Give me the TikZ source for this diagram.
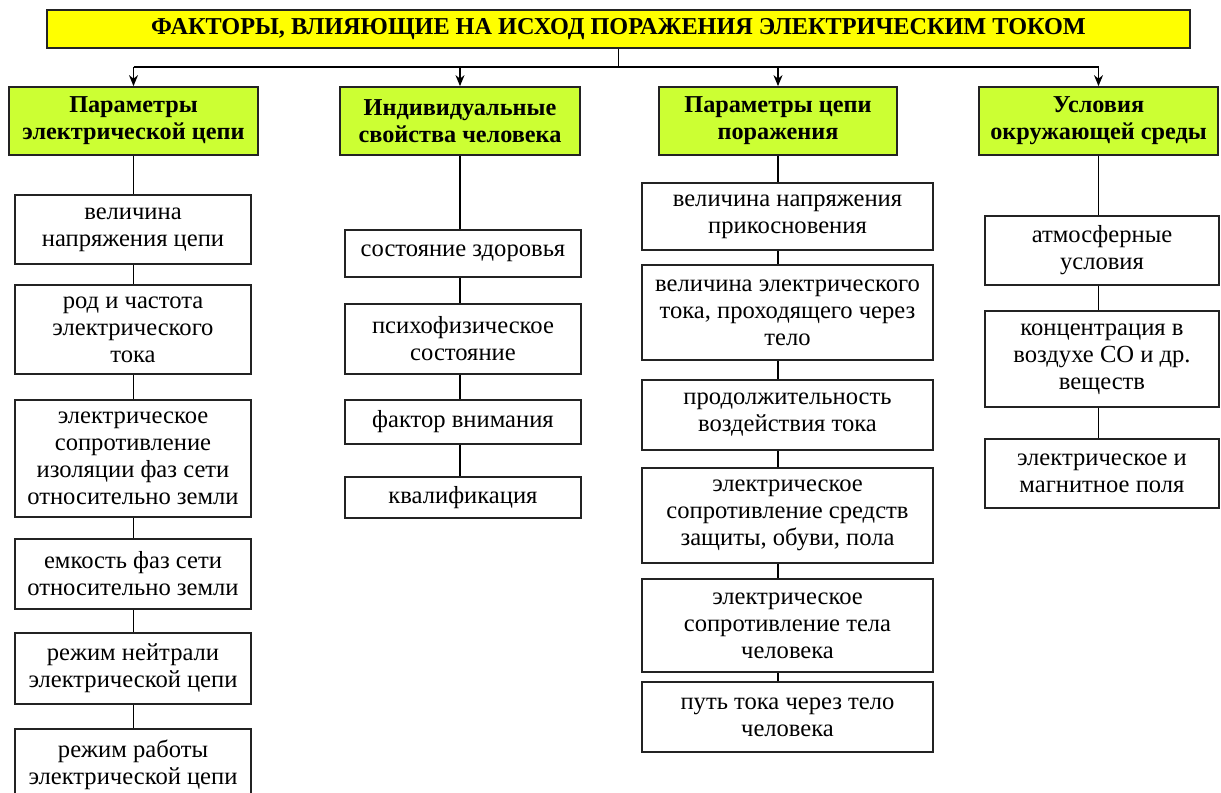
\documentclass[tikz,border=0pt]{standalone}
\usepackage{fontspec}
\setmainfont{Liberation Serif}
\usetikzlibrary{arrows.meta}
\definecolor{TitleYellow}{RGB}{255,255,0}
\definecolor{HeadGreen}{RGB}{204,255,51}
\definecolor{EdgeDark}{RGB}{35,35,35}
\tikzset{
  feed/.style={-{Stealth[length=2.2mm,width=1.8mm]},line width=0.8pt,draw=black},
  link/.style={line width=0.8pt,draw=black},
  titlebox/.style={draw=EdgeDark,fill=TitleYellow,line width=1pt,
    minimum width=22.86cm,minimum height=0.76cm,inner sep=0pt,
    font=\fontsize{13.8}{16}\selectfont\bfseries},
  headbox/.style={draw=EdgeDark,fill=HeadGreen,line width=1pt,inner sep=0pt,
    minimum height=1.36cm,align=center,font=\fontsize{13.8}{15.5}\selectfont\bfseries},
  itembox/.style={draw=EdgeDark,fill=white,line width=1pt,inner sep=0pt,
    align=center,font=\fontsize{14}{15.3}\selectfont}
}

\begin{document}
\begin{tikzpicture}[x=0.02cm,y=-0.02cm]
  \useasboundingbox (0,0) rectangle (1221,793);

  \node[titlebox] (title) at (618.5,29) {ФАКТОРЫ, ВЛИЯЮЩИЕ НА ИСХОД ПОРАЖЕНИЯ ЭЛЕКТРИЧЕСКИМ ТОКОМ};

  % column heads
  \node[headbox,minimum width=4.98cm] (par) at (133.5,121) {Параметры\\электрической цепи};
  \node[headbox,minimum width=4.8cm] (ind) at (460,121) {Индивидуальные\\свойства человека};
  \node[headbox,minimum width=4.76cm] (cir) at (778,121) {Параметры цепи\\поражения};
  \node[headbox,minimum width=4.78cm] (env) at (1098.5,121) {Условия\\окружающей среды};

  % electric circuit
  \node[itembox,minimum width=4.72cm,minimum height=1.38cm] (b1) at (133,229.5) {величина\\напряжения цепи};
  \node[itembox,minimum width=4.72cm,minimum height=1.78cm] (b2) at (133,329.5) {род и частота\\электрического\\тока};
  \node[itembox,minimum width=4.72cm,minimum height=2.34cm] (b3) at (133,458.5) {электрическое\\сопротивление\\изоляции фаз сети\\относительно земли};
  \node[itembox,minimum width=4.72cm,minimum height=1.4cm] (b4) at (133,574) {емкость фаз сети\\относительно земли};
  \node[itembox,minimum width=4.72cm,minimum height=1.42cm] (b5) at (133,668.5) {режим нейтрали\\электрической цепи};
  \node[itembox,minimum width=4.72cm,minimum height=1.44cm] (b6) at (133,765) {режим работы\\электрической цепи};

  % person
  \node[itembox,minimum width=4.72cm,minimum height=0.94cm] (c1) at (463,253.5) {состояние здоровья};
  \node[itembox,minimum width=4.72cm,minimum height=1.4cm] (c2) at (463,339) {психофизическое\\состояние};
  \node[itembox,minimum width=4.72cm,minimum height=0.88cm] (c3) at (463,422) {фактор внимания};
  \node[itembox,minimum width=4.72cm,minimum height=0.82cm] (c4) at (463,497.5) {квалификация};

  % injury circuit
  \node[itembox,minimum width=5.82cm,minimum height=1.34cm] (d1) at (787.5,216.5) {величина напряжения\\прикосновения};
  \node[itembox,minimum width=5.82cm,minimum height=1.9cm] (d2) at (787.5,312.5) {величина электрического\\тока, проходящего через\\тело};
  \node[itembox,minimum width=5.82cm,minimum height=1.4cm] (d3) at (787.5,415) {продолжительность\\воздействия тока};
  \node[itembox,minimum width=5.82cm,minimum height=1.9cm] (d4) at (787.5,515.5) {электрическое\\сопротивление средств\\защиты, обуви, пола};
  \node[itembox,minimum width=5.82cm,minimum height=1.86cm] (d5) at (787.5,625.5) {электрическое\\сопротивление тела\\человека};
  \node[itembox,minimum width=5.82cm,minimum height=1.4cm] (d6) at (787.5,717) {путь тока через тело\\человека};

  % environment
  \node[itembox,minimum width=4.68cm,minimum height=1.38cm] (e1) at (1102,250.5) {атмосферные\\условия};
  \node[itembox,minimum width=4.68cm,minimum height=1.92cm] (e2) at (1102,359) {концентрация в\\воздухе СО и др.\\веществ};
  \node[itembox,minimum width=4.68cm,minimum height=1.38cm] (e3) at (1102,473.5) {электрическое и\\магнитное поля};

  % bus
  \coordinate (bus) at (618.5,67);
  \draw[link] (title.south) -- (bus);
  \draw[link] (bus -| par) -- (bus -| env);
  \foreach \h in {par,ind,cir,env}
    \draw[feed] (bus -| \h) -- (\h.north);

  % chains
  \foreach \h/\a/\b in {par/par/b1,par/b1/b2,par/b2/b3,par/b3/b4,par/b4/b5,par/b5/b6,
                        ind/ind/c1,ind/c1/c2,ind/c2/c3,ind/c3/c4,
                        cir/cir/d1,cir/d1/d2,cir/d2/d3,cir/d3/d4,cir/d4/d5,cir/d5/d6,
                        env/env/e1,env/e1/e2,env/e2/e3}
    \draw[link] (\a.south -| \h) -- (\b.north -| \h);
\end{tikzpicture}
\end{document}
